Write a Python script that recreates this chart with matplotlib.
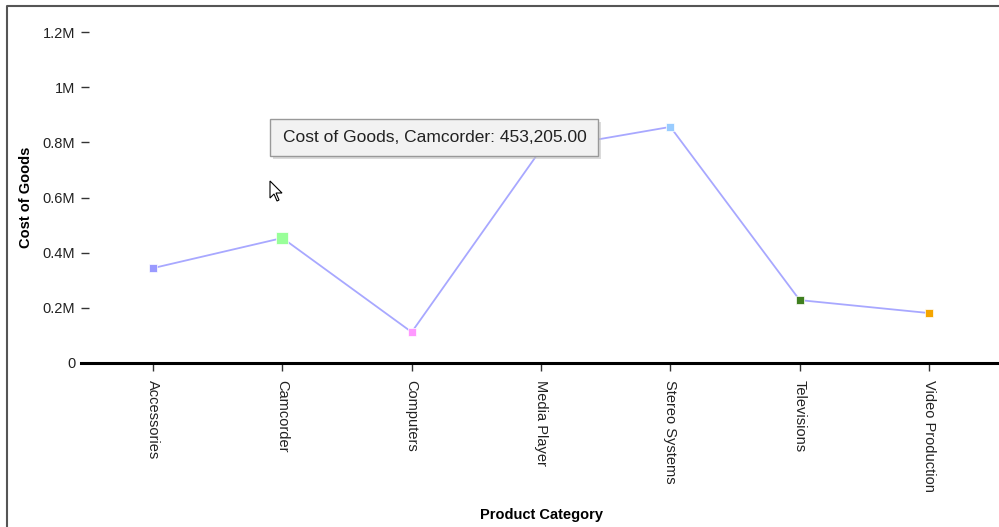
import matplotlib
matplotlib.use("Agg")
import matplotlib.pyplot as plt
from matplotlib.patches import Rectangle, Polygon
from matplotlib.lines import Line2D

categories = ["Accessories", "Camcorder", "Computers", "Media Player",
              "Stereo Systems", "Televisions", "Video Production"]
cost_of_goods = [344000, 453205, 112000, 775000, 856000, 228000, 181000]
marker_colors = ["#9a9aff", "#99ff99", "#ff99ff", "#c8c8ff",
                 "#99ccff", "#3f7f1f", "#f5a500"]
y_ticks = [0, 200000, 400000, 600000, 800000, 1000000, 1200000]
y_tick_labels = ["0", "0.2M", "0.4M", "0.6M", "0.8M", "1M", "1.2M"]
tooltip_text = "Cost of Goods, Camcorder: 453,205.00"

plt.rcParams['font.family'] = ['Liberation Sans', 'DejaVu Sans']

W, H = 999, 527
fig = plt.figure(figsize=(9.99, 5.27), dpi=100)
ax = fig.add_axes([81/W, 1-363/H, 918/W, (363-32)/H])

x = list(range(len(categories)))
ax.plot(x, cost_of_goods, color="#a8a8ff", lw=1.3, zorder=2)
for i, (xi, yi) in enumerate(zip(x, cost_of_goods)):
    size = 9 if i == 1 else 6
    ax.plot([xi], [yi], marker="s", ms=size, color=marker_colors[i],
            mec="white", mew=0.5, zorder=3, ls="none")

ax.set_xlim(-0.557, 6.541)
ax.set_ylim(0, 1200000)
ax.set_xticks(x)
ax.set_xticklabels(categories, rotation=270, fontsize=10.5, va="top", ha="center")
ax.set_yticks(y_ticks)
ax.set_yticklabels(y_tick_labels, fontsize=10.5)

for s in ["top", "right", "left"]:
    ax.spines[s].set_visible(False)
ax.spines["bottom"].set_linewidth(2.2)
ax.spines["bottom"].set_color("black")
ax.tick_params(axis="y", direction="in", length=6, width=1, color="#333333",
               pad=4, labelcolor="#222222")
ax.tick_params(axis="x", length=6, width=1, color="#333333", pad=6,
               labelcolor="#222222")

ax.set_ylabel("Cost of Goods", fontsize=10.5, fontweight="bold")
ax.yaxis.label.set_va("center")
ax.yaxis.set_label_coords(-55/918, 0.5)
ax.set_xlabel("Product Category", fontsize=10.5, fontweight="bold")
ax.xaxis.label.set_va("center")
ax.xaxis.set_label_coords((541-81)/918, -152/331)

# tooltip (figure pixel coordinates)
shadow = Rectangle((273/W, 1-159/H), 328/W, 37/H, transform=fig.transFigure,
                   facecolor="#c4c4c4", edgecolor="none", zorder=9, alpha=0.6)
fig.patches.append(shadow)
box = Rectangle((270/W, 1-156/H), 328/W, 37/H, transform=fig.transFigure,
                facecolor="#f2f2f2", edgecolor="#999999", lw=1, zorder=10)
fig.patches.append(box)
fig.text(435/W, 1-138/H, tooltip_text, ha="center", va="center",
         fontsize=12.5, color="#222222", zorder=11)

# mouse cursor
cur = [(270, 181), (270, 198), (274, 194), (277, 201), (279, 200), (276, 193), (282, 193)]
fig.patches.append(Polygon([(px/W, 1-py/H) for px, py in cur], closed=True,
                           transform=fig.transFigure, facecolor="white",
                           edgecolor="black", lw=0.8, zorder=12))

# outer frame: top and left edges
fig.lines.append(Line2D([6.5/W, 6.5/W, 1.0], [0.0, 1-6/H, 1-6/H],
                        transform=fig.transFigure, color="#555555", lw=1.5, zorder=20))

fig.savefig("out.png", dpi=100)
